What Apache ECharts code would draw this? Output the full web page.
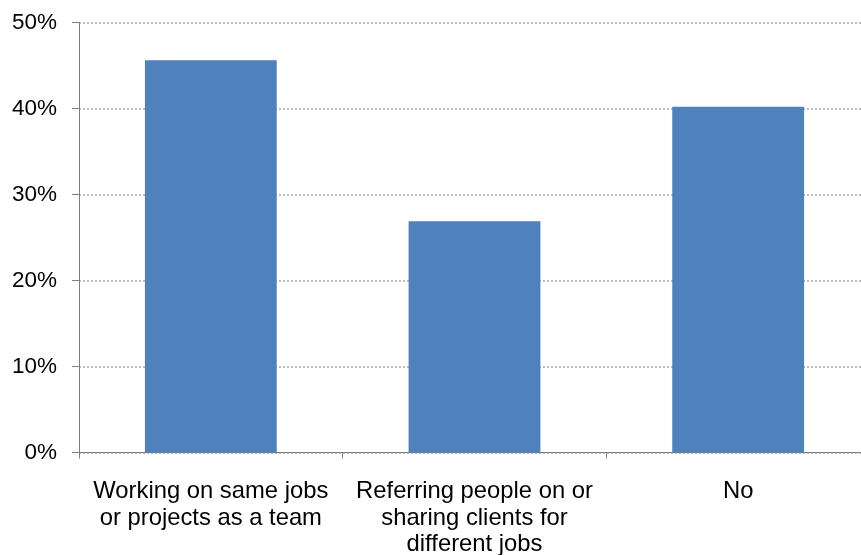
<!DOCTYPE html>
<html>
<head>
<meta charset="utf-8">
<script src="https://cdn.jsdelivr.net/npm/echarts@6/dist/echarts.min.js"></script>
<style>
html,body{margin:0;padding:0;background:#fff;}
#c{width:861px;height:555px;}
</style>
</head>
<body>
<div id="c"></div>
<script>
const categories = [
  "Working on same jobs\nor projects as a team",
  "Referring people on or\nsharing clients for\ndifferent jobs",
  "No"
];
const values = [45.6, 26.9, 40.2];
const yTicks = [0, 10, 20, 30, 40, 50];

const chart = echarts.init(document.getElementById('c'), null, {renderer: 'canvas'});
chart.setOption({
  animation: false,
  backgroundColor: '#ffffff',
  grid: {left: 79, top: 22.5, width: 791, height: 430, outerBoundsMode: 'none', containLabel: false},
  xAxis: {
    type: 'category',
    data: categories,
    axisLine: {show: true, lineStyle: {color: '#7f7f7f', width: 1}},
    axisTick: {show: true, length: 6, alignWithLabel: false, lineStyle: {color: '#7f7f7f'}},
    axisLabel: {
      color: '#000', fontFamily: 'Liberation Sans, Arial, sans-serif', fontSize: 23.8,
      lineHeight: 26.5, margin: 26, interval: 0
    },
    splitLine: {show: false}
  },
  yAxis: {
    type: 'value',
    min: yTicks[0], max: yTicks[yTicks.length - 1], interval: 10,
    axisLine: {show: true, lineStyle: {color: '#7f7f7f', width: 1}},
    axisTick: {show: true, length: 7, lineStyle: {color: '#7f7f7f'}},
    axisLabel: {
      color: '#000', fontFamily: 'Liberation Sans, Arial, sans-serif', fontSize: 22.5,
      margin: 22, formatter: v => v + '%'
    },
    splitLine: {show: true, lineStyle: {color: '#bfbfbf', type: [2, 2], width: 2}}
  },
  series: [{
    type: 'bar',
    data: values,
    barWidth: '50%',
    itemStyle: {color: '#4f81bd'}
  }]
});
</script>
</body>
</html>
